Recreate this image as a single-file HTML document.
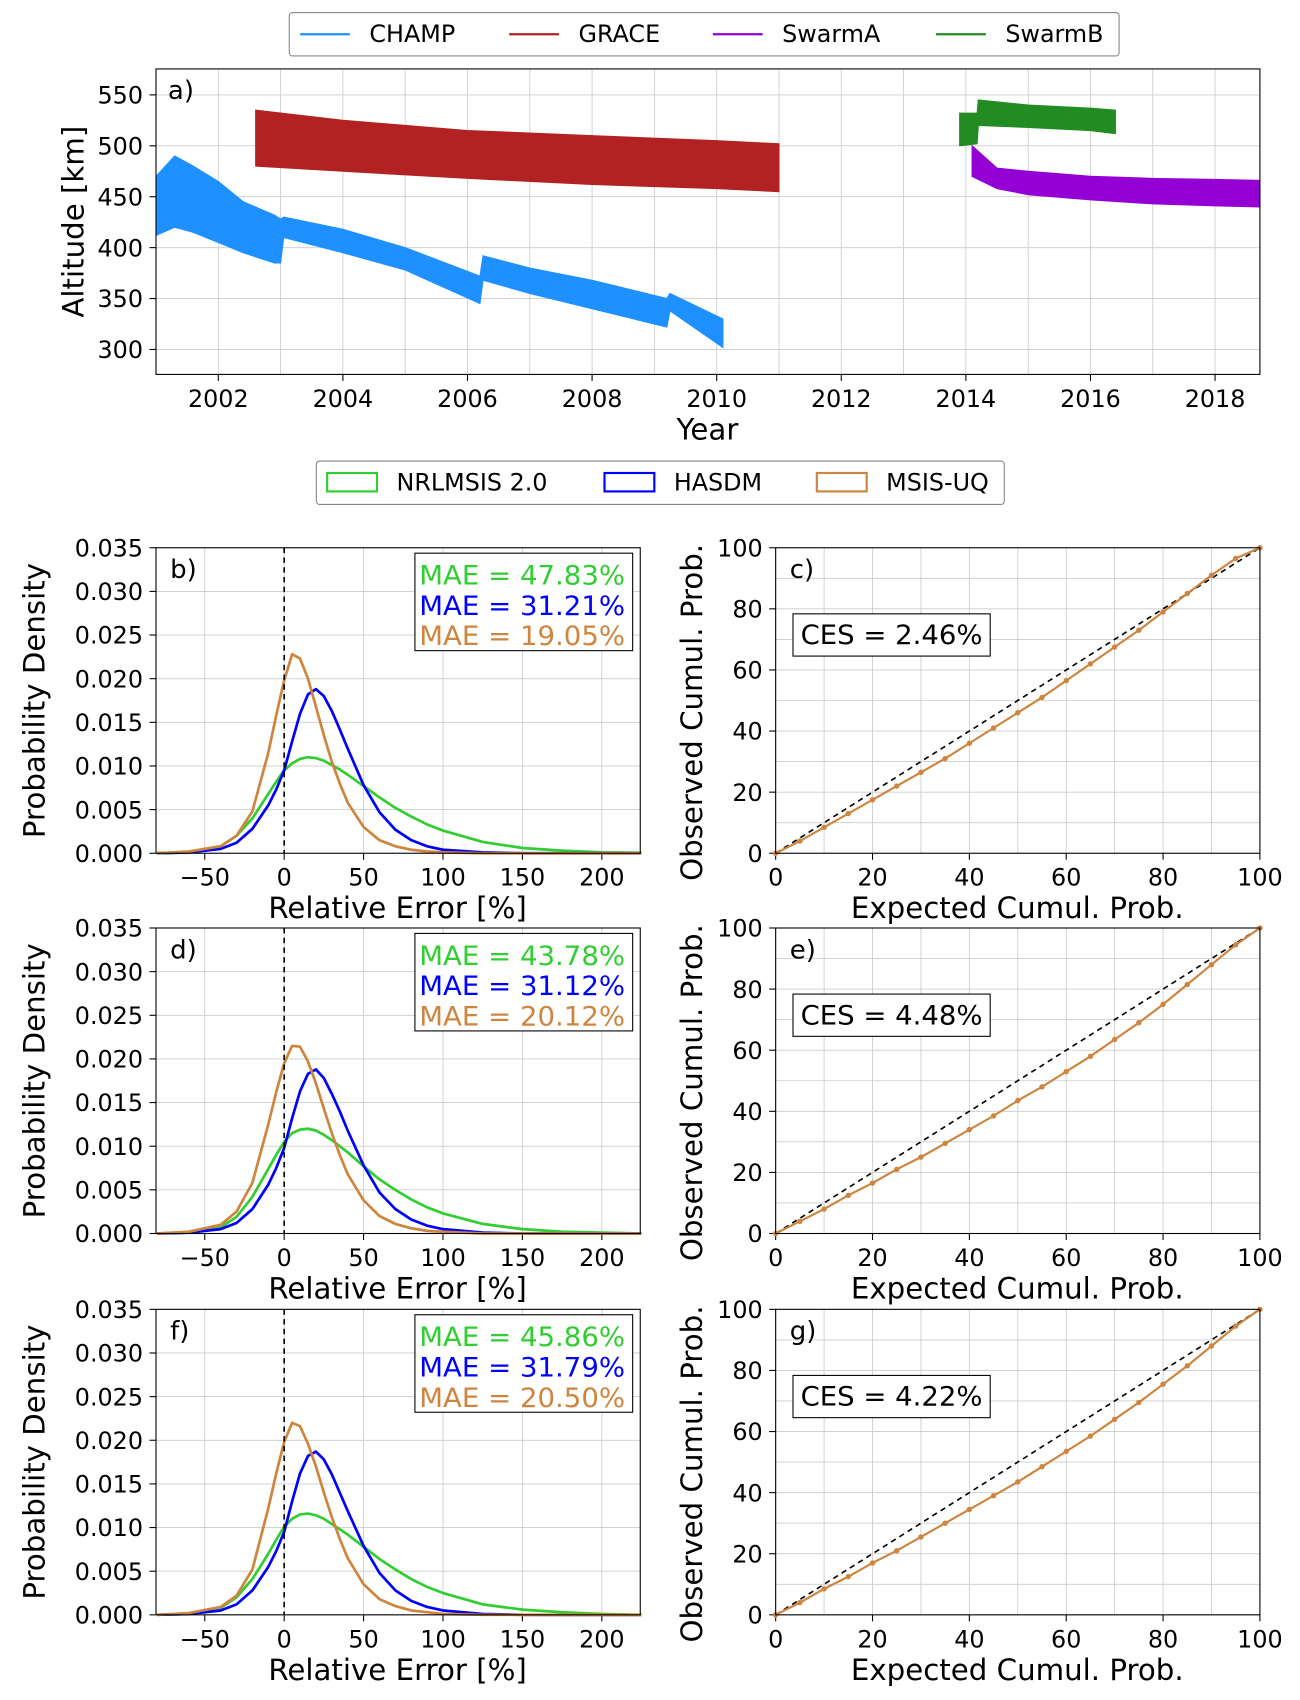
<!DOCTYPE html>
<html><head><meta charset="utf-8">
<style>
html,body{margin:0;padding:0;background:#fff;}
svg{display:block;font-family:"DejaVu Sans","Liberation Sans",sans-serif;}
</style></head>
<body>
<svg id="fig" width="1300" height="1700" viewBox="0 0 1200 1568" xmlns="http://www.w3.org/2000/svg"></svg>
<script>
// ---------- DATA ----------
const champYears=[2001.0,2001.3,2001.6,2002.0,2002.4,2002.9,2003.0,2003.05,2004,2005,2006.2,2006.25,2007,2008,2009.2,2009.25,2010.1];
const champUpper=[470,490,480,465,445,432,428,430,418,400,372,392,380,368,350,355,330];
const champLower=[412,420,415,405,395,385,385,410,395,378,345,368,355,340,322,338,302];
const graceYears=[2002.6,2004,2006,2008,2010,2011.0];
const graceUpper=[535,525,515,510,505,502];
const graceLower=[480,475,468,462,458,455];
const swarmBYears=[2013.9,2014.18,2014.2,2015,2016,2016.4];
const swarmBUpper=[532,532,545,540,537,535];
const swarmBLower=[500,502,520,518,515,512];
const swarmAYears=[2014.1,2014.5,2015,2016,2017,2018,2018.72];
const swarmAUpper=[500,478,475,470,468,467,466];
const swarmALower=[470,458,452,447,443,441,440];

const errX=[-80,-60,-40,-30,-20,-10,-5,0,5,10,15,20,25,30,35,40,50,60,70,80,90,100,125,150,175,200,225];
const nrlB=[0,0.0001,0.0008,0.002,0.004,0.0068,0.0082,0.0095,0.0103,0.0108,0.011,0.0109,0.0106,0.0101,0.0096,0.009,0.0077,0.0064,0.0052,0.0042,0.0033,0.0026,0.0013,0.0006,0.0003,0.0001,0.00005];
const hasB=[0,0.0001,0.0005,0.0012,0.0028,0.0055,0.0073,0.0095,0.0128,0.016,0.0182,0.0188,0.018,0.0163,0.0142,0.012,0.0078,0.0047,0.0027,0.0015,0.0008,0.0004,0.0001,0,0,0,0];
const uqB=[0,0.0002,0.0008,0.002,0.0048,0.0115,0.0158,0.0198,0.0228,0.0223,0.02,0.0168,0.0135,0.0105,0.008,0.0058,0.003,0.0015,0.0008,0.0004,0.0002,0.0001,0,0,0,0,0];
const nrlD=[0,0.0001,0.0007,0.0019,0.0042,0.0074,0.009,0.0105,0.0115,0.0119,0.012,0.0118,0.0113,0.0107,0.01,0.0093,0.0077,0.0062,0.005,0.0039,0.003,0.0023,0.0011,0.0005,0.0002,0.0001,0];
const hasD=[0,0.0001,0.0005,0.0012,0.0028,0.0056,0.0075,0.0098,0.0132,0.0163,0.0183,0.0188,0.0178,0.016,0.014,0.0118,0.0078,0.0047,0.0028,0.0016,0.0009,0.0005,0.0001,0,0,0,0];
const uqD=[0,0.0002,0.001,0.0025,0.0058,0.0125,0.0162,0.0195,0.0215,0.0214,0.0197,0.0172,0.0143,0.0115,0.009,0.0068,0.0038,0.002,0.0011,0.0006,0.0003,0.0002,0,0,0,0,0];
const nrlF=[0,0.0001,0.0008,0.002,0.0041,0.007,0.0086,0.0101,0.011,0.0115,0.0116,0.0114,0.011,0.0104,0.0098,0.0092,0.0078,0.0064,0.0052,0.0041,0.0032,0.0025,0.0012,0.0006,0.0003,0.0001,0];
const hasF=[0,0.0001,0.0005,0.0012,0.0028,0.0055,0.0073,0.0095,0.013,0.0162,0.0182,0.0187,0.0178,0.0161,0.014,0.0119,0.0079,0.0048,0.0028,0.0016,0.0009,0.0005,0.0001,0,0,0,0];
const uqF=[0,0.0002,0.0009,0.0022,0.0052,0.0122,0.0162,0.0198,0.022,0.0216,0.0196,0.017,0.014,0.0112,0.0087,0.0065,0.0035,0.0018,0.001,0.0005,0.0003,0.0001,0,0,0,0,0];

const expP=[0,5,10,15,20,25,30,35,40,45,50,55,60,65,70,75,80,85,90,95,100];
const obsC=[0,4,8.5,13,17.5,22,26.5,31,36,41,46,51,56.5,62,67.5,73,79,85,91,96.5,100];
const obsE=[0,4,8,12.5,16.5,21,25,29.5,34,38.5,43.5,48,53,58,63.5,69,75,81.5,88,94.5,100];
const obsG=[0,4,8.5,12.5,17,21,25.5,30,34.5,39,43.5,48.5,53.5,58.5,64,69.5,75.5,81.5,88,94.5,100];

const maeB=["47.83","31.21","19.05"], maeD=["43.78","31.12","20.12"], maeF=["45.86","31.79","20.50"];
const cesVals=["2.46","4.48","4.22"];
const yearTicks=[2002,2004,2006,2008,2010,2012,2014,2016,2018];
const altTicks=[300,350,400,450,500,550];
const errTicks=[-50,0,50,100,150,200];
const denTicks=[0,0.005,0.01,0.015,0.02,0.025,0.03,0.035];
const calTicks=[0,20,40,60,80,100];

// ---------- HELPERS ----------
const NS="http://www.w3.org/2000/svg";
const svg=document.getElementById('fig');
function el(tag,attrs,parent,text){const e=document.createElementNS(NS,tag);for(const k in attrs)e.setAttribute(k,attrs[k]);if(text!==undefined)e.textContent=text;(parent||svg).appendChild(e);return e;}
const C={champ:'#1e90ff',grace:'#b22222',swA:'#9400d3',swB:'#228b22',nrl:'#32cd32',has:'#0000ff',uq:'#cd853f'};

// ---------- PANEL A ----------
const A={x0:144,x1:1163,y0:63,y1:345};
const ax=v=>A.x0+(v-2001)*(A.x1-A.x0)/(2018.72-2001);
const ay=v=>A.y1-(v-275.5)*(A.y1-A.y0)/(575.5-275.5);
const gA=el('g',{});

for(let y=2002;y<=2018;y++){el('line',{x1:ax(y),x2:ax(y),y1:A.y0,y2:A.y1,stroke:'#ccc','stroke-width':0.8},gA);}
altTicks.forEach(v=>{el('line',{x1:A.x0,x2:A.x1,y1:ay(v),y2:ay(v),stroke:'#ccc','stroke-width':0.8},gA);
 el('line',{x1:A.x0-6,x2:A.x0,y1:ay(v),y2:ay(v),stroke:'#000'},gA);
 const t=el('text',{x:A.x0-12,y:ay(v)+8,'text-anchor':'end','font-size':22},gA,v);});
yearTicks.forEach(v=>{el('line',{x1:ax(v),x2:ax(v),y1:A.y1,y2:A.y1+6,stroke:'#000'},gA);
 const t=el('text',{x:ax(v),y:A.y1+30,'text-anchor':'middle','font-size':22},gA,v);});
function band(xs,up,lo,col,name){
 let d='M'+xs.map((x,i)=>ax(x)+','+ay(up[i])).join('L');
 for(let i=xs.length-1;i>=0;i--)d+='L'+ax(xs[i])+','+ay(lo[i]);
 const p=el('path',{d:d+'Z',fill:col,stroke:col,'stroke-width':1},gA);
 }
band(champYears,champUpper,champLower,C.champ,'champ-altitude');
band(graceYears,graceUpper,graceLower,C.grace,'grace-altitude');
band(swarmBYears,swarmBUpper,swarmBLower,C.swB,'swarmb-altitude');
band(swarmAYears,swarmAUpper,swarmALower,C.swA,'swarma-altitude');
el('rect',{x:A.x0,y:A.y0,width:A.x1-A.x0,height:A.y1-A.y0,fill:'none',stroke:'#000','stroke-width':1},gA);
el('text',{x:155,y:91,'font-size':24},gA,'a)');
let t=el('text',{x:653,y:405,'text-anchor':'middle','font-size':27},gA,'Year');
t=el('text',{transform:'translate(77,204) rotate(-90)','text-anchor':'middle','font-size':27},gA,'Altitude [km]');

// legend 1
const lg1=el('g',{});
el('rect',{x:267,y:11,width:766,height:40,rx:3,fill:'#fff',stroke:'#888'},lg1);
[['CHAMP',C.champ,277],['GRACE',C.grace,470],['SwarmA',C.swA,658],['SwarmB',C.swB,864]].forEach(([n,c,x])=>{
 const g=el('g',{},lg1);
 el('line',{x1:x,x2:x+46,y1:31,y2:31,stroke:c,'stroke-width':2},g);el('text',{x:x+64,y:38,'font-size':22},g,n);});
// legend 2
const lg2=el('g',{});
el('rect',{x:292,y:425,width:635,height:40,rx:3,fill:'#fff',stroke:'#888'},lg2);
[['NRLMSIS 2.0',C.nrl,302],['HASDM',C.has,558],['MSIS-UQ',C.uq,754]].forEach(([n,c,x])=>{
 const g=el('g',{},lg2);
 el('rect',{x:x,y:436,width:46,height:17,fill:'none',stroke:c,'stroke-width':2},g);el('text',{x:x+64,y:452,'font-size':22},g,n);});

// ---------- HIST PANELS ----------
function hist(y0,label,nrl,has,uq,mae){
 const P={x0:144,x1:591,y0:y0,y1:y0+282};
 const hx=v=>P.x0+(v+80.7)*(P.x1-P.x0)/(224.2+80.7);
 const hy=v=>P.y1-v*(P.y1-P.y0)/0.035;
 const g=el('g',{});
 errTicks.forEach(v=>{el('line',{x1:hx(v),x2:hx(v),y1:P.y0,y2:P.y1,stroke:'#ccc','stroke-width':0.8},g);
  el('line',{x1:hx(v),x2:hx(v),y1:P.y1,y2:P.y1+6,stroke:'#000'},g);
  const t=el('text',{x:hx(v),y:P.y1+30,'text-anchor':'middle','font-size':22},g,v<0?'\u2212'+(-v):v);});
 denTicks.forEach(v=>{el('line',{x1:P.x0,x2:P.x1,y1:hy(v),y2:hy(v),stroke:'#ccc','stroke-width':0.8},g);
  el('line',{x1:P.x0-6,x2:P.x0,y1:hy(v),y2:hy(v),stroke:'#000'},g);
  const t=el('text',{x:P.x0-12,y:hy(v)+8,'text-anchor':'end','font-size':22},g,v.toFixed(3));});
 [[nrl,C.nrl,'nrlmsis-curve'],[has,C.has,'hasdm-curve'],[uq,C.uq,'msis-uq-curve']].forEach(([arr,c,n])=>{
  const p=el('polyline',{points:errX.map((x,i)=>hx(x)+','+hy(arr[i])).join(' '),fill:'none',stroke:c,'stroke-width':2.5,'stroke-linejoin':'round'},g);
  });
 el('line',{x1:hx(0),x2:hx(0),y1:P.y0,y2:P.y1,stroke:'#000','stroke-width':1.5,'stroke-dasharray':'5,4'},g);
 el('rect',{x:P.x0,y:P.y0,width:P.x1-P.x0,height:P.y1-P.y0,fill:'none',stroke:'#000'},g);
 el('text',{x:157,y:P.y0+28,'font-size':24},g,label+')');
 const b=el('g',{},g);
 el('rect',{x:383,y:P.y0+5,width:201,height:90,fill:'#fff',stroke:'#000'},b);
 [C.nrl,C.has,C.uq].forEach((c,i)=>el('text',{x:387,y:P.y0+34+i*28,'font-size':25,fill:c,textLength:190,lengthAdjust:'spacingAndGlyphs'},b,'MAE = '+mae[i]+'%'));
 let t=el('text',{x:367,y:P.y1+60,'text-anchor':'middle','font-size':27},g,'Relative Error [%]');
 t=el('text',{transform:`translate(41,${P.y0+141}) rotate(-90)`,'text-anchor':'middle','font-size':27},g,'Probability Density');
}
function cal(y0,label,obs,ces){
 const P={x0:716,x1:1163,y0:y0,y1:y0+282};
 const cx=v=>P.x0+v*(P.x1-P.x0)/100, cy=v=>P.y1-v*(P.y1-P.y0)/100;
 const g=el('g',{});
 for(let v=0;v<=100;v+=10){el('line',{x1:cx(v),x2:cx(v),y1:P.y0,y2:P.y1,stroke:'#ccc','stroke-width':0.8},g);
  el('line',{x1:P.x0,x2:P.x1,y1:cy(v),y2:cy(v),stroke:'#ccc','stroke-width':0.8},g);}
 calTicks.forEach(v=>{el('line',{x1:cx(v),x2:cx(v),y1:P.y1,y2:P.y1+6,stroke:'#000'},g);
  el('line',{x1:P.x0-6,x2:P.x0,y1:cy(v),y2:cy(v),stroke:'#000'},g);
  let t=el('text',{x:cx(v),y:P.y1+30,'text-anchor':'middle','font-size':22},g,v);
  t=el('text',{x:P.x0-12,y:cy(v)+8,'text-anchor':'end','font-size':22},g,v);});
 el('line',{x1:cx(0),y1:cy(0),x2:cx(100),y2:cy(100),stroke:'#000','stroke-width':1.5,'stroke-dasharray':'5,4'},g);
 const p=el('polyline',{points:expP.map((x,i)=>cx(x)+','+cy(obs[i])).join(' '),fill:'none',stroke:C.uq,'stroke-width':2},g);
 
 expP.forEach((x,i)=>{const c=el('circle',{cx:cx(x),cy:cy(obs[i]),r:2.5,fill:C.uq},g);});
 el('rect',{x:P.x0,y:P.y0,width:P.x1-P.x0,height:P.y1-P.y0,fill:'none',stroke:'#000'},g);
 el('text',{x:729,y:P.y0+28,'font-size':24},g,label+')');
 const b=el('g',{},g);
 el('rect',{x:732,y:P.y0+61,width:182,height:39,fill:'#fff',stroke:'#000'},b);
 el('text',{x:739,y:P.y0+89,'font-size':25,textLength:168,lengthAdjust:'spacingAndGlyphs'},b,'CES = '+ces+'%');
 let t=el('text',{x:939,y:P.y1+60,'text-anchor':'middle','font-size':27},g,'Expected Cumul. Prob.');
 t=el('text',{transform:`translate(648,${P.y0+152}) rotate(-90)`,'text-anchor':'middle','font-size':27},g,'Observed Cumul. Prob.');
}
hist(505,'b',nrlB,hasB,uqB,maeB);cal(505,'c',obsC,cesVals[0]);
hist(856,'d',nrlD,hasD,uqD,maeD);cal(856,'e',obsE,cesVals[1]);
hist(1208,'f',nrlF,hasF,uqF,maeF);cal(1208,'g',obsG,cesVals[2]);
</script>
</body></html>
